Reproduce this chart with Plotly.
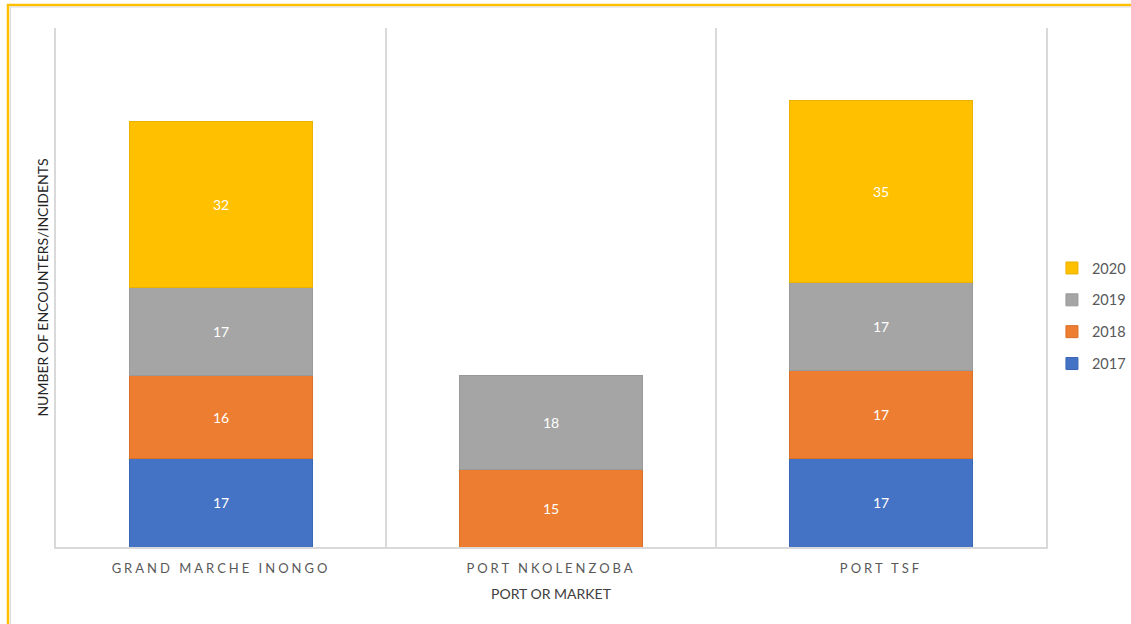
import plotly.graph_objects as go

# Encounters/incidents per site and year
sites = ["GRAND MARCHE INONGO", "PORT NKOLENZOBA", "PORT TSF"]
years = ["2017", "2018", "2019", "2020"]
v2017 = [17, None, 17]
v2018 = [16, 15, 17]
v2019 = [17, 18, 17]
v2020 = [32, None, 35]

series = [v2017, v2018, v2019, v2020]
fills = ["#4472C4", "#ED7D31", "#A5A5A5", "#FFC000"]
edges = ["#3A66B3", "#D8702A", "#999999", "#EBB100"]

FONT = "Lato, 'Open Sans', sans-serif"

fig = go.Figure()
for i, (year, vals, fc, ec) in enumerate(zip(years, series, fills, edges)):
    fig.add_trace(go.Bar(
        x=sites, y=vals, name=year,
        legendgroup=year, legendrank=100 - i,
        marker=dict(color=fc, line=dict(color=ec, width=1)),
        text=[str(v) if v is not None else "" for v in vals],
        textposition="inside", insidetextanchor="middle",
        textfont=dict(color="white", size=14, family=FONT),
        hoverinfo="x+y+name",
    ))

fig.update_layout(
    width=1131, height=624,
    margin=dict(l=56, r=85, t=28, b=77, autoexpand=False),
    barmode="stack", bargap=0.445,
    paper_bgcolor="white", plot_bgcolor="white",
    font=dict(family=FONT, color="#595959"),
    showlegend=True,
    legend=dict(
        traceorder="grouped", tracegroupgap=10,
        x=1.006, xanchor="left", y=0.445, yanchor="middle",
        font=dict(size=14.5, color="#595959", family=FONT),
    ),
)

fig.update_xaxes(
    type="category", tickson="boundaries",
    showgrid=True, gridcolor="#D9D9D9", gridwidth=1.5,
    showline=True, linecolor="#D9D9D9", linewidth=1.5,
    ticks="", ticklabelstandoff=9,
    tickfont=dict(size=13, color="#595959", family=FONT),
    title=dict(text="PORT OR MARKET", font=dict(size=14, color="#404040", family=FONT), standoff=14),
    fixedrange=True,
)
fig.update_yaxes(
    range=[0, 100], showgrid=False, zeroline=False, showticklabels=False,
    showline=True, mirror=True, linecolor="#D9D9D9", linewidth=1.5, ticks="",
    title=dict(text="NUMBER OF ENCOUNTERS/INCIDENTS", font=dict(size=14, color="#262626", family=FONT), standoff=2),
    fixedrange=True,
)

# Outer chart frame (yellow with thin inner grey edge)
fig.add_shape(type="rect", xref="paper", yref="paper",
              x0=-0.0485, x1=1.3, y0=-0.5, y1=1.0443,
              line=dict(color="#FFC000", width=2.5), fillcolor="rgba(0,0,0,0)", layer="above")
fig.add_shape(type="rect", xref="paper", yref="paper",
              x0=-0.046, x1=1.3, y0=-0.5, y1=1.0405,
              line=dict(color="#D9D9D9", width=1), fillcolor="rgba(0,0,0,0)", layer="above")

spacing_js = """
document.querySelectorAll('.xtick text').forEach(function(t){
  t.style.letterSpacing = '3px';
});
"""

fig.write_html("out.html", post_script=spacing_js)
